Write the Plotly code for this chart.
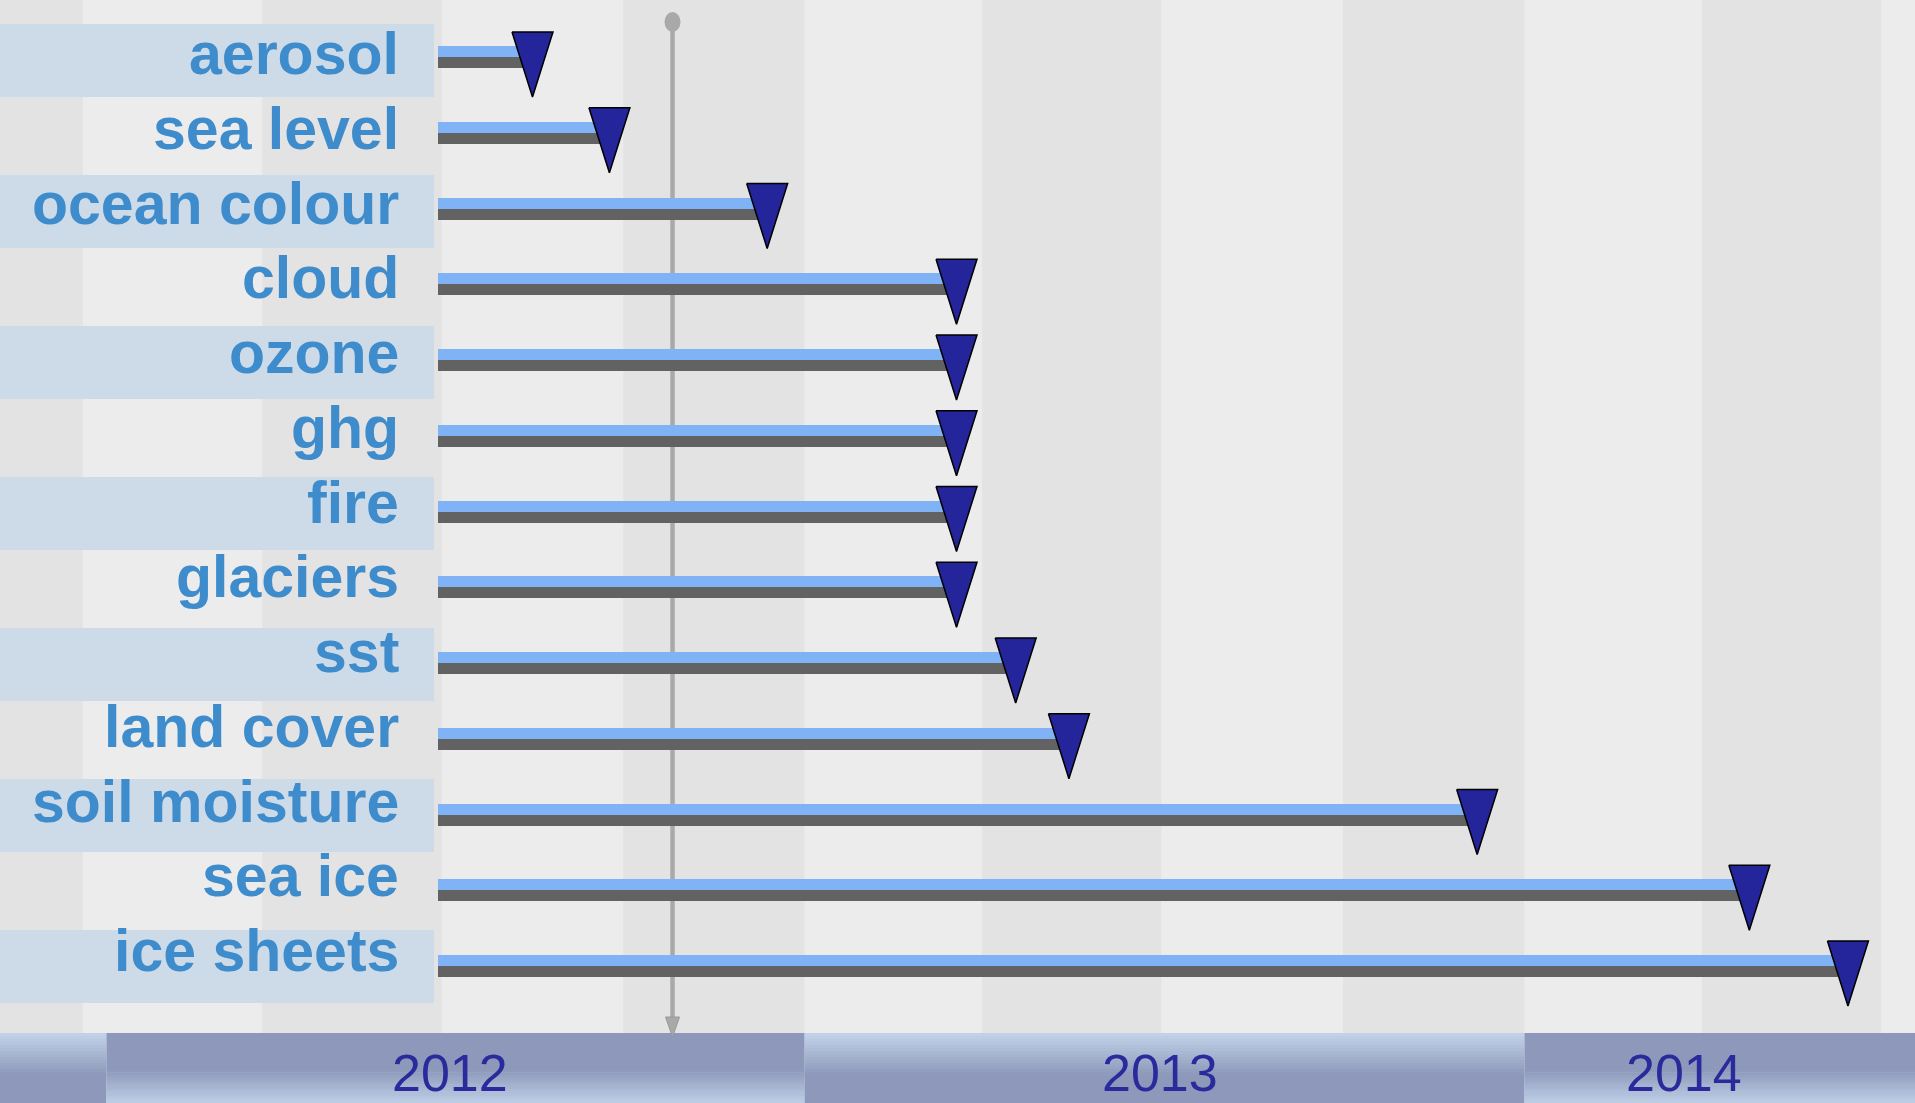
import plotly.graph_objects as go
import pandas as pd

# ---------------- data ----------------
variables = ["aerosol", "sea level", "ocean colour", "cloud", "ozone", "ghg", "fire",
             "glaciers", "sst", "land cover", "soil moisture", "sea ice", "ice sheets"]
start_dates = ["2012-06-29"] * 13
end_dates = ["2012-08-16", "2012-09-24", "2012-12-13", "2013-03-19", "2013-03-19",
             "2013-03-19", "2013-03-19", "2013-03-19", "2013-04-18", "2013-05-15",
             "2013-12-08", "2014-04-25", "2014-06-14"]
today = "2012-10-26"
year_labels = ["2012", "2013", "2014"]
year_starts = ["2012-01-13", "2013-01-01", "2014-01-01"]
year_label_dates = ["2012-07-05", "2013-06-30", "2014-03-23"]
quarter_starts = pd.date_range("2011-10-01", "2014-10-01", freq="QS")

# ---------------- layout constants ----------------
W, H = 1915, 1103
X_RANGE = ["2011-11-20", "2014-07-18"]
ROW0_PX, ROW_PITCH = 57.0, 75.75
Y_TOP = -ROW0_PX / ROW_PITCH
Y_BOT = (H - ROW0_PX) / ROW_PITCH
PX_PER_DAY = 1.974
HALF = 11.0 / ROW_PITCH
BAND_TOP_PX = 1033

BLUE = "#7fb3f5"
GREY = "#626262"
NAVY = "#24249b"
LABEL_C = "#3e8ccc"
YEAR_C = "#2a2a9c"
STRIPE_L = "#ececec"
STRIPE_D = "#e3e3e3"
ROWBAND = "#cddbe8"
TODAY_C = "#a9a9a9"


def py(p):  # pixel -> paper y
    return 1 - p / H


rows = list(range(len(variables)))
starts = pd.to_datetime(start_dates)
ends = pd.to_datetime(end_dates)
dur_ms = [(e - s).total_seconds() * 1000 for s, e in zip(starts, ends)]

fig = go.Figure()
fig.add_trace(go.Bar(orientation="h", y=rows, x=dur_ms, base=start_dates,
                     offset=-HALF, width=HALF, marker=dict(color=BLUE, line=dict(width=0)),
                     hoverinfo="skip", showlegend=False))
fig.add_trace(go.Bar(orientation="h", y=rows, x=dur_ms, base=start_dates,
                     offset=0, width=HALF, marker=dict(color=GREY, line=dict(width=0)),
                     hoverinfo="skip", showlegend=False))

# triangles (milestones) at bar ends
hw = pd.Timedelta(days=20.5 / PX_PER_DAY)
tx, ty = [], []
for i, e in zip(rows, ends):
    top = i - 25 / ROW_PITCH
    bot = i + 40 / ROW_PITCH
    tx += [e - hw, e + hw, e, e - hw, None]
    ty += [top, top, bot, top, None]
tx = [t.isoformat() if t is not None else None for t in tx]
fig.add_trace(go.Scatter(x=tx, y=ty, mode="lines", fill="toself", fillcolor=NAVY,
                         line=dict(color="#000000", width=1.5), hoverinfo="skip",
                         showlegend=False))

shapes = []
# quarter stripes
for k in range(len(quarter_starts) - 1):
    q0, q1 = quarter_starts[k], quarter_starts[k + 1]
    col = STRIPE_D if q0.month in (4, 10) else STRIPE_L
    shapes.append(dict(type="rect", xref="x", yref="paper", x0=q0.isoformat(), x1=q1.isoformat(),
                       y0=py(BAND_TOP_PX), y1=1, fillcolor=col, line=dict(width=0), layer="below"))
# label row bands
for i in rows:
    if i % 2 == 0:
        top = 24 + 75.5 * i
        shapes.append(dict(type="rect", xref="paper", yref="paper", x0=0, x1=434 / W,
                           y0=py(top + 73), y1=py(top), fillcolor=ROWBAND,
                           line=dict(width=0), layer="below"))
# today line
shapes.append(dict(type="line", xref="x", yref="paper", x0=today, x1=today,
                   y0=py(1022), y1=py(26), line=dict(color=TODAY_C, width=4.5), layer="below"))
shapes.append(dict(type="circle", xref="x", yref="paper", xsizemode="pixel", xanchor=today,
                   x0=-8, x1=8, y0=py(32), y1=py(12), fillcolor=TODAY_C,
                   line=dict(width=0), layer="below"))


def hexrgb(h):
    h = h.lstrip("#")
    return tuple(int(h[j:j + 2], 16) for j in (0, 2, 4))


def lerp(c0, c1, t):
    a, b = hexrgb(c0), hexrgb(c1)
    return "rgb(%d,%d,%d)" % tuple(round(a[j] + (b[j] - a[j]) * t) for j in range(3))


LIGHT_B = "#c3d4e9"
DARK_B = "#8d98ba"
LIGHT_B2 = "#bdcfe6"


def band(x0, x1, light_top):
    n = 14
    if light_top:
        g0, g1 = BAND_TOP_PX, 1075
        for k in range(n):
            a = g0 + (g1 - g0) * k / n
            b = g0 + (g1 - g0) * (k + 1) / n
            shapes.append(dict(type="rect", xref="x", yref="paper", x0=x0, x1=x1,
                               y0=py(b + 0.5), y1=py(a), fillcolor=lerp(LIGHT_B, DARK_B, (k + 0.5) / n),
                               line=dict(width=0), layer="below"))
        shapes.append(dict(type="rect", xref="x", yref="paper", x0=x0, x1=x1,
                           y0=0, y1=py(g1), fillcolor=DARK_B, line=dict(width=0), layer="below"))
    else:
        g0, g1 = 1070, H
        shapes.append(dict(type="rect", xref="x", yref="paper", x0=x0, x1=x1,
                           y0=py(g0 + 0.5), y1=py(BAND_TOP_PX), fillcolor=DARK_B,
                           line=dict(width=0), layer="below"))
        for k in range(n):
            a = g0 + (g1 - g0) * k / n
            b = g0 + (g1 - g0) * (k + 1) / n
            shapes.append(dict(type="rect", xref="x", yref="paper", x0=x0, x1=x1,
                               y0=py(b + 0.5), y1=py(a), fillcolor=lerp(DARK_B, LIGHT_B2, (k + 0.5) / n),
                               line=dict(width=0), layer="below"))


edges = [X_RANGE[0]] + year_starts + [X_RANGE[1]]
for k in range(len(edges) - 1):
    band(edges[k], edges[k + 1], light_top=(k % 2 == 0))

# arrow head of today line
shapes.append(dict(type="path", xref="x", yref="paper", xsizemode="pixel", ysizemode="pixel",
                   xanchor=today, yanchor=py(1037), path="M -7,20 L 7,20 L 0,0 Z",
                   fillcolor=TODAY_C, line=dict(color="#999999", width=1), layer="above"))

annotations = []
for i, name in enumerate(variables):
    anchor_px = 54 + 74.75 * i
    annotations.append(dict(text=name, xref="paper", yref="paper", x=401 / W, y=py(anchor_px),
                            xanchor="right", yanchor="middle", showarrow=False,
                            font=dict(family="Liberation Sans, Arial, sans-serif", size=59,
                                      color=LABEL_C, weight="bold")))
for lab, d in zip(year_labels, year_label_dates):
    annotations.append(dict(text=lab, xref="x", yref="paper", x=d, y=py(1073),
                            xanchor="center", yanchor="middle", showarrow=False,
                            font=dict(family="Liberation Sans, Arial, sans-serif", size=52,
                                      color=YEAR_C)))

fig.update_layout(
    width=W, height=H, autosize=False,
    margin=dict(l=0, r=0, t=0, b=0, pad=0),
    paper_bgcolor=STRIPE_L, plot_bgcolor=STRIPE_L,
    barmode="overlay", bargap=0,
    shapes=shapes, annotations=annotations,
    xaxis=dict(type="date", range=X_RANGE, showgrid=False, zeroline=False,
               showticklabels=False, ticks="", fixedrange=True),
    yaxis=dict(range=[Y_BOT, Y_TOP], showgrid=False, zeroline=False,
               showticklabels=False, ticks="", fixedrange=True),
    showlegend=False,
)

fig.write_html("out.html", config={"displayModeBar": False},
               post_script="document.body.style.margin='0';document.body.style.overflow='hidden';")
